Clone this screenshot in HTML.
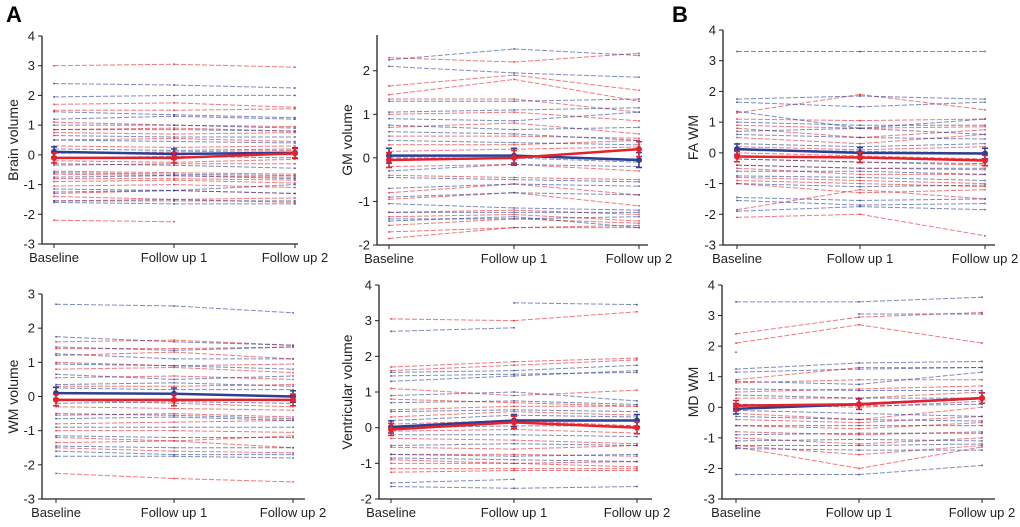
<!DOCTYPE html>
<html><head><meta charset="utf-8">
<style>
html,body{margin:0;padding:0;background:#fff;}
svg{display:block;font-family:"Liberation Sans",Arial,sans-serif;}
.tick{font-size:13px;fill:#222;}
.cat{font-size:13px;fill:#222;}
.ylab{font-size:14px;fill:#222;}
.plab{font-size:22px;font-weight:bold;fill:#000;}
</style></head>
<body>
<svg id="fig" width="1020" height="527" viewBox="0 0 1020 527">
<text class="plab" x="6" y="22">A</text>
<text class="plab" x="672" y="22">B</text>
</svg>
<script>
const categories = ["Baseline","Follow up 1","Follow up 2"];

// Brain volume
const brainRed = [[3.0,3.05,2.95],[1.7,1.75,1.6],[1.5,1.5,1.55],[1.1,1.0,0.95],[0.85,0.9,0.8],[0.75,0.7,0.75],[0.5,0.55,0.45],[0.3,0.25,0.3],[0.05,0.1,0.15],[-0.2,-0.25,-0.15],[-0.35,-0.3,-0.3],[-0.55,-0.6,-0.65],[-0.65,-0.7,-0.75],[-0.8,-0.8,-0.85],[-0.9,-0.85,-0.95],[-1.05,-1.0,-1.1],[-1.3,-1.2,-1.3],[-1.4,-1.5,-1.45],[-1.55,-1.5,-1.6],[-2.2,-2.25,null]];
const brainBlue = [[2.4,2.35,2.25],[1.95,2.0,2.0],[1.45,1.35,1.25],[1.2,1.3,1.2],[1.0,1.0,0.9],[0.85,0.85,0.8],[0.65,0.6,0.6],[0.5,0.45,0.4],[0.2,0.15,0.2],[0.1,0.05,0.0],[-0.1,-0.05,-0.1],[-0.3,-0.35,-0.45],[-0.6,-0.65,-0.7],[-0.75,-0.7,-0.8],[-1.15,-1.2,-1.0],[-1.25,-1.2,-1.3],[-1.55,-1.55,-1.55],[-1.6,-1.65,-1.65]];
const brainMeanBlue = [0.1,0.03,0.07];
const brainMeanRed = [-0.1,-0.1,0.05];

// GM volume
const gmRed = [[2.3,2.2,2.4],[1.65,1.9,1.55],[1.45,1.8,1.3],[1.35,1.35,1.05],[1.0,1.05,0.85],[0.7,0.8,0.55],[0.5,0.5,0.45],[0.3,0.3,0.4],[0.15,0.2,0.25],[-0.2,-0.15,-0.3],[-0.4,-0.45,-0.5],[-0.8,-0.6,-0.85],[-0.95,-0.8,-1.1],[-1.25,-1.2,-1.3],[-1.35,-1.3,-1.45],[-1.55,-1.4,-1.5],[-1.7,-1.6,-1.6],[-1.85,-1.6,-1.55]];
const gmBlue = [[2.25,2.5,2.35],[2.1,1.95,1.85],[1.3,1.3,1.35],[1.05,1.1,1.15],[0.9,0.85,1.05],[0.75,0.65,0.7],[0.6,0.55,0.4],[0.4,0.35,0.3],[0.0,0.0,-0.1],[-0.3,-0.15,-0.2],[-0.45,-0.5,-0.55],[-0.7,-0.6,-0.65],[-0.9,-0.8,-0.85],[-1.05,-1.15,-1.2],[-1.25,-1.25,-1.25],[-1.4,-1.4,-1.35],[-1.45,-1.35,-1.6]];
const gmMeanBlue = [0.05,0.05,-0.05];
const gmMeanRed = [-0.05,0.0,0.2];

// FA WM
const faRed = [[1.3,1.9,1.4],[1.1,1.05,1.1],[0.9,0.8,0.85],[0.8,0.5,0.75],[0.5,0.3,0.6],[0.2,0.1,0.2],[0.0,-0.1,-0.2],[-0.2,-0.3,-0.4],[-0.4,-0.5,-0.55],[-0.5,-0.7,-0.7],[-0.8,-0.9,-1.0],[-0.9,-1.0,-1.1],[-1.0,-1.3,-1.2],[-1.85,-1.2,-1.5],[-2.1,-2.0,-2.7]];
const faBlue = [[3.3,3.3,3.3],[1.75,1.85,1.75],[1.65,1.5,1.65],[1.35,0.8,1.1],[1.0,0.9,0.9],[0.7,0.8,0.6],[0.6,0.5,0.45],[0.3,0.2,0.3],[0.1,0.05,0.0],[-0.2,-0.3,-0.35],[-0.4,-0.5,-0.5],[-0.6,-0.6,-0.7],[-0.75,-0.8,-0.9],[-1.0,-1.1,-1.05],[-1.45,-1.55,-1.5],[-1.55,-1.7,-1.65],[-1.9,-1.75,-1.85]];
const faMeanBlue = [0.12,0.0,-0.02];
const faMeanRed = [-0.12,-0.15,-0.25];

// WM volume
const wmRed = [[1.6,1.65,1.5],[1.4,1.4,1.45],[1.2,1.3,1.1],[1.0,0.9,0.95],[0.8,0.85,0.7],[0.55,0.6,0.5],[0.3,0.3,0.35],[-0.1,-0.2,-0.3],[-0.3,-0.35,-0.4],[-0.55,-0.5,-0.6],[-0.8,-0.75,-0.7],[-1.0,-1.0,-1.05],[-1.2,-1.3,-1.15],[-1.35,-1.3,-1.5],[-1.5,-1.6,-1.65],[-2.25,-2.4,-2.5]];
const wmBlue = [[2.7,2.65,2.45],[1.75,1.6,1.5],[1.45,1.35,1.45],[1.25,1.1,1.1],[0.95,0.9,0.8],[0.65,0.5,0.6],[0.35,0.4,0.3],[0.25,0.2,0.2],[-0.2,-0.15,-0.2],[-0.5,-0.55,-0.65],[-0.65,-0.6,-0.7],[-0.9,-0.9,-0.9],[-1.15,-1.2,-1.2],[-1.45,-1.5,-1.5],[-1.6,-1.7,-1.7],[-1.75,-1.75,-1.8]];
const wmMeanBlue = [0.1,0.08,0.0];
const wmMeanRed = [-0.1,-0.1,-0.1];

// Ventricular volume
const venRed = [[3.05,3.0,3.25],[1.7,1.85,1.95],[1.6,1.75,1.9],[1.1,0.9,1.05],[0.8,0.7,0.6],[0.5,0.6,0.6],[0.3,0.45,0.35],[0.1,0.2,0.05],[-0.1,-0.05,-0.15],[-0.3,-0.35,-0.45],[-0.55,-0.6,-0.5],[-0.75,-0.75,-0.8],[-0.9,-1.0,-0.95],[-1.0,-1.0,-1.1],[-1.15,-1.15,-1.15],[-1.25,-1.2,-1.2]];
const venBlue = [[null,3.5,3.45],[2.7,2.8,null],[1.55,1.6,1.75],[1.45,1.5,1.55],[1.3,1.45,1.6],[0.9,1.0,0.75],[0.7,0.75,0.65],[0.45,0.5,0.45],[0.2,0.35,0.3],[0.0,0.05,0.05],[-0.2,-0.2,-0.25],[-0.5,-0.45,-0.5],[-0.75,-0.8,-0.75],[-0.85,-0.9,-0.95],[-1.55,-1.45,null],[-1.65,-1.7,-1.65]];
const venMeanBlue = [0.02,0.2,0.2];
const venMeanRed = [-0.05,0.15,0.0];

// MD WM
const mdRed = [[2.4,2.95,3.1],[2.1,2.7,2.1],[0.9,1.3,1.3],[0.8,0.9,0.9],[0.5,0.6,0.7],[0.3,0.3,0.5],[0.1,0.0,0.2],[-0.2,-0.4,0.0],[-0.4,-0.5,-0.3],[-0.6,-0.7,-0.5],[-0.8,-0.9,-0.8],[-1.0,-1.2,-1.0],[-1.25,-1.55,-1.25],[-1.3,-2.0,-1.3]];
const mdBlue = [[3.45,3.45,3.6],[null,3.05,3.05],[1.8,null,null],[1.25,1.45,1.5],[1.15,1.25,1.3],[0.85,0.75,1.15],[0.6,0.55,0.55],[0.4,0.3,0.3],[0.1,0.05,0.1],[-0.1,-0.2,-0.3],[-0.3,-0.4,-0.45],[-0.6,-0.6,-0.6],[-0.9,-0.85,-0.85],[-1.1,-1.05,-1.1],[-1.25,-1.25,-1.2],[-1.35,-1.4,-1.4],[-2.2,-2.2,-1.9]];
const mdMeanBlue = [-0.05,0.1,0.3];
const mdMeanRed = [0.05,0.1,0.3];

const meanErr = [0.17,0.17,0.17];

const panels = [
 {name:"brain-volume",label:"Brain volume",ax:42,top:36,bot:244,ymin:-3,ymax:4,ticks:[-3,-2,-1,0,1,2,3,4],cx:[54,174,295],xend:298,red:brainRed,blue:brainBlue,mb:brainMeanBlue,mr:brainMeanRed,lx:13},
 {name:"gm-volume",label:"GM volume",ax:377,top:35,bot:245,ymin:-2,ymax:2.82,ticks:[-2,-1,0,1,2],cx:[389,514,639],xend:648,red:gmRed,blue:gmBlue,mb:gmMeanBlue,mr:gmMeanRed,lx:347},
 {name:"fa-wm",label:"FA WM",ax:723,top:30,bot:245,ymin:-3,ymax:4,ticks:[-3,-2,-1,0,1,2,3,4],cx:[737,860,985],xend:995,red:faRed,blue:faBlue,mb:faMeanBlue,mr:faMeanRed,lx:693},
 {name:"wm-volume",label:"WM volume",ax:42,top:294,bot:499,ymin:-3,ymax:3,ticks:[-3,-2,-1,0,1,2,3],cx:[56,174,293],xend:305,red:wmRed,blue:wmBlue,mb:wmMeanBlue,mr:wmMeanRed,lx:13},
 {name:"ventricular-volume",label:"Ventricular volume",ax:379,top:285,bot:499,ymin:-2,ymax:4,ticks:[-2,-1,0,1,2,3,4],cx:[391,514,637],xend:652,red:venRed,blue:venBlue,mb:venMeanBlue,mr:venMeanRed,lx:347},
 {name:"md-wm",label:"MD WM",ax:722,top:285,bot:499,ymin:-3,ymax:4,ticks:[-3,-2,-1,0,1,2,3,4],cx:[736,859,982],xend:995,red:mdRed,blue:mdBlue,mb:mdMeanBlue,mr:mdMeanRed,lx:693}
];
const NS="http://www.w3.org/2000/svg";
const svg=document.getElementById('fig');
function mk(tag,attrs,parent){const e=document.createElementNS(NS,tag);for(const k in attrs)e.setAttribute(k,attrs[k]);(parent||svg).appendChild(e);return e;}
const RED="#e8202a",BLUE="#2b3f95";
panels.forEach(p=>{
 const g=mk('g',{});
 
 
 const y=v=>p.bot-(v-p.ymin)/(p.ymax-p.ymin)*(p.bot-p.top);
 const x=i=>p.cx[i];
 function subj(arr,col,nm){
  arr.forEach(row=>{
   const pts=[];row.forEach((v,i)=>{if(v!==null)pts.push([x(i),y(v)]);});
   for(let i=0;i<row.length-1;i++){
    if(row[i]===null||row[i+1]===null)continue;
    const l=mk('line',{x1:x(i),y1:y(row[i]),x2:x(i+1),y2:y(row[i+1]),stroke:col,'stroke-width':1,'stroke-dasharray':'5 2','stroke-opacity':0.6},g);
    
    
   }
   pts.forEach(pt=>{const d=mk('rect',{x:pt[0]-0.8,y:pt[1]-0.8,width:1.6,height:1.6,fill:col,opacity:0.8},g);
    
    });
  });
 }
 subj(p.red,RED,'red-subject');
 subj(p.blue,BLUE,'blue-subject');
 function mean(arr,col,nm){
  const pl=mk('polyline',{points:arr.map((v,i)=>x(i)+','+y(v)).join(' '),fill:'none',stroke:col,'stroke-width':2.5},g);
  
  
  arr.forEach((v,i)=>{
   const e=meanErr[i];
   const eb=mk('path',{d:`M${x(i)},${y(v+e)}V${y(v-e)}M${x(i)-3},${y(v+e)}h6M${x(i)-3},${y(v-e)}h6`,stroke:col,'stroke-width':1.5,fill:'none'},g);
   
   
   const c=mk('circle',{cx:x(i),cy:y(v),r:3,fill:col},g);
   
   
  });
 }
 mean(p.mb,BLUE,'blue');
 mean(p.mr,RED,'red');
 const ya=mk('line',{x1:p.ax,y1:p.top,x2:p.ax,y2:p.bot,stroke:'#222','stroke-width':1.3},g);
 
 
 const xa=mk('line',{x1:p.ax,y1:p.bot,x2:p.xend,y2:p.bot,stroke:'#222','stroke-width':1.3},g);
 
 
 p.ticks.forEach(t=>{
  const tl=mk('line',{x1:p.ax-4,y1:y(t),x2:p.ax,y2:y(t),stroke:'#222'},g);
  
  
  const tx=mk('text',{x:p.ax-7,y:y(t)+4.5,'text-anchor':'end',class:'tick'},g);
  tx.textContent=t;
  
  
 });
 categories.forEach((c,i)=>{
  const tl=mk('line',{x1:x(i),y1:p.bot,x2:x(i),y2:p.bot+4,stroke:'#222'},g);
  
  
  const tx=mk('text',{x:x(i),y:p.bot+18,'text-anchor':'middle',class:'cat'},g);
  tx.textContent=c;
  
  
 });
 const cy=(p.top+p.bot)/2;
 const yl=mk('text',{x:p.lx,y:cy,'text-anchor':'middle',class:'ylab',transform:`rotate(-90 ${p.lx} ${cy})`,dy:'0.35em'},g);
 yl.textContent=p.label;
 
 
});
</script>
</body></html>
